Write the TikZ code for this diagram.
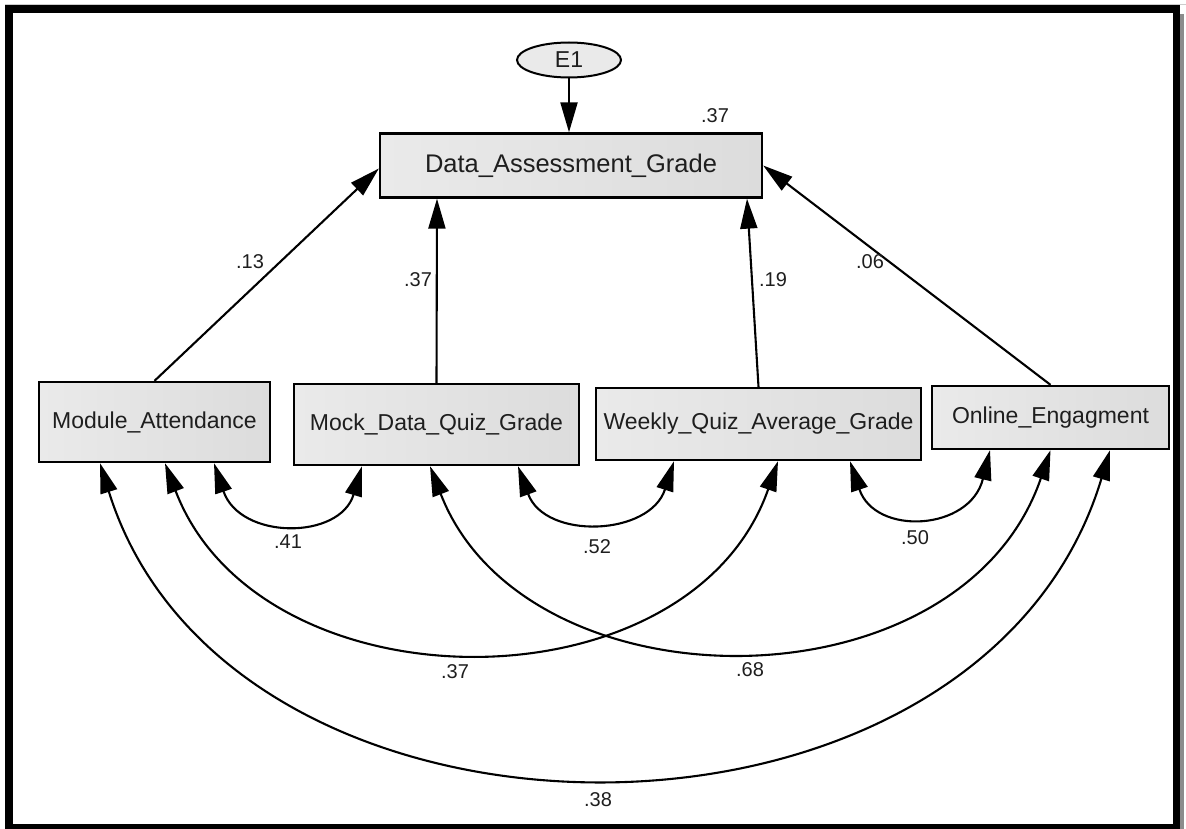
\documentclass[tikz,border=0pt]{standalone}
\usepackage{fontspec}
\setmainfont{Liberation Sans}
\usetikzlibrary{arrows.meta,shapes.geometric}
\definecolor{boxL}{HTML}{EAEAEA}
\definecolor{boxR}{HTML}{DCDCDC}
\definecolor{inkc}{HTML}{1E1E1E}
\begin{document}
\begin{tikzpicture}[x=1pt,y=-1pt,
  var/.style={draw=black, line width=2.3pt, left color=boxL, right color=boxR,
              inner sep=0pt, text=inkc, font=\fontsize{23}{27}\selectfont},
  tip/.tip={Triangle[length=30pt,width=17pt]},
  regpath/.style={line width=2.1pt, -tip},
  cov/.style={line width=2.1pt, tip-tip},
  coef/.style={inner sep=0pt, text=inkc, font=\fontsize{20}{24}\selectfont}
]
\useasboundingbox (0,0) rectangle (1186,829);
% outer frame with a thin shadow on the right
\draw[black!20, line width=1pt] (5,4.5) -- (1186,4.5);
\fill[black!45] (1180,14) rectangle (1184,829);
\draw[line width=7.5pt] (9,9) rectangle (1176.5,827.5);

% variables
\node[ellipse, draw=black, line width=2pt, fill=boxL, minimum width=104pt,
      minimum height=35pt, inner sep=0pt, text=inkc,
      font=\fontsize{23}{27}\selectfont] (e1) at (569,60) {E1};
\node[var, minimum width=382pt, minimum height=64pt,
      font=\fontsize{25.5}{30}\selectfont] (dag) at (571,165.5) {Data\_Assessment\_Grade};
\node[var, minimum width=231pt, minimum height=80pt] (ma) at (154.5,422) {Module\_Attendance};
\node[var, minimum width=285pt, minimum height=81pt] (mq) at (436.5,424.5) {Mock\_Data\_Quiz\_Grade};
\node[var, minimum width=325pt, minimum height=72pt] (wq) at (758.5,424) {Weekly\_Quiz\_Average\_Grade};
\node[var, minimum width=237pt, minimum height=63pt] (oe) at (1050.5,417.5) {Online\_Engagment};

% regression paths
\draw[regpath] (e1.south) -- (e1.south |- dag.north);
\draw[regpath] (ma.north) -- ([yshift=-3pt]dag.west);
\draw[regpath] (mq.north) -- ([xshift=-134pt]dag.south);
\draw[regpath] (wq.north) -- ([xshift=176pt]dag.south);
\draw[regpath] (oe.north) -- (dag.east);

% covariances
\draw[cov] ([xshift=59.5pt]ma.south) .. controls +(26,77) and +(-22,74) .. ([xshift=-74.5pt]mq.south);
\draw[cov] ([xshift=81.5pt]mq.south) .. controls +(27,74) and +(-24,75) .. ([xshift=-84.5pt]wq.south);
\draw[cov] ([xshift=91.5pt]wq.south) .. controls +(25,75) and +(-20,81) .. ([xshift=-60.5pt]oe.south);
\draw[cov] ([xshift=10.5pt]ma.south) .. controls +(95,249) and +(-88,252) .. ([xshift=19.5pt]wq.south);
\draw[cov] ([xshift=-6.5pt]mq.south) .. controls +(95,246) and +(-90,263) .. (oe.south);
\draw[cov] ([xshift=-54.5pt]ma.south) .. controls +(130,418) and +(-130,432) .. ([xshift=59.5pt]oe.south);

% estimates
\node[coef] (r2) at (715,116) {.37};
\node[coef] (c13) at (250,262) {.13};
\node[coef] (c37a) at (418,280) {.37};
\node[coef] (c19) at (773,280) {.19};
\node[coef] (c06) at (870,262) {.06};
\node[coef] (c41) at (288,542) {.41};
\node[coef] (c52) at (597,547) {.52};
\node[coef] (c50) at (915,538) {.50};
\node[coef] (c37b) at (455,672) {.37};
\node[coef] (c68) at (750,670) {.68};
\node[coef] (c38) at (598,800) {.38};
\end{tikzpicture}
\end{document}
